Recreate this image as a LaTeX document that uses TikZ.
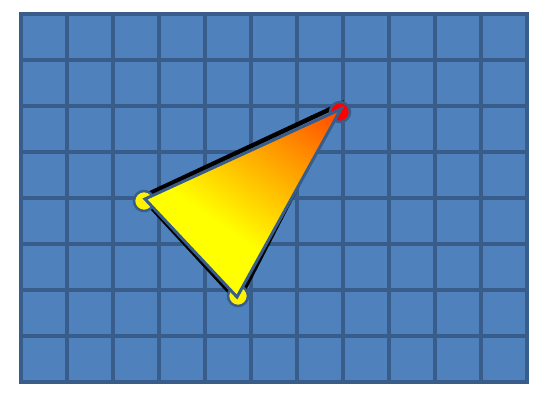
\documentclass[tikz,border=0pt]{standalone}
\usepackage{tikz}
\usetikzlibrary{calc}
\definecolor{cellblue}{HTML}{4F81BD}
\definecolor{lineblue}{HTML}{385D8A}
\pgfdeclareverticalshading{warm}{100bp}{color(0bp)=(yellow); color(42bp)=(yellow); color(68bp)=(orange!85!yellow); color(100bp)=(red)}
\tikzset{gridline/.style={lineblue,line width=4pt},
  vtx/.style={circle,draw=lineblue,line width=2.5pt,minimum size=20pt,inner sep=0pt},
  shadowline/.style={black,line width=4.5pt,line join=miter},
  tri/.style={draw=lineblue,line width=3pt,line join=miter,shading=warm,shading angle=-35}}

\begin{document}
\begin{tikzpicture}[x=1pt,y=1pt]
\useasboundingbox (0,0) rectangle (546,404);
% grid
\fill[cellblue] (21,22) rectangle (527,390);
\foreach \i in {0,...,11} \draw[gridline] (21+46*\i,20) -- (21+46*\i,392);
\foreach \j in {0,...,8} \draw[gridline] (19,390-46*\j) -- (529,390-46*\j);
% triangle corners
\coordinate (a) at (145,205);
\coordinate (b) at (341,295);
\coordinate (c) at (237,107);
\draw[shadowline] ($(a)+(-3,2)$) -- ($(b)+(-2,4)$) -- ($(c)+(1,-4)$) -- cycle;
% vertices
\node[vtx,fill=yellow] (left) at (144,203) {};
\node[vtx,fill=red] (top) at (340,292) {};
\node[vtx,fill=yellow] (bottom) at (238,108) {};
% triangle
\path[tri] (a) -- (b) -- (c) -- cycle;
\end{tikzpicture}
\end{document}
